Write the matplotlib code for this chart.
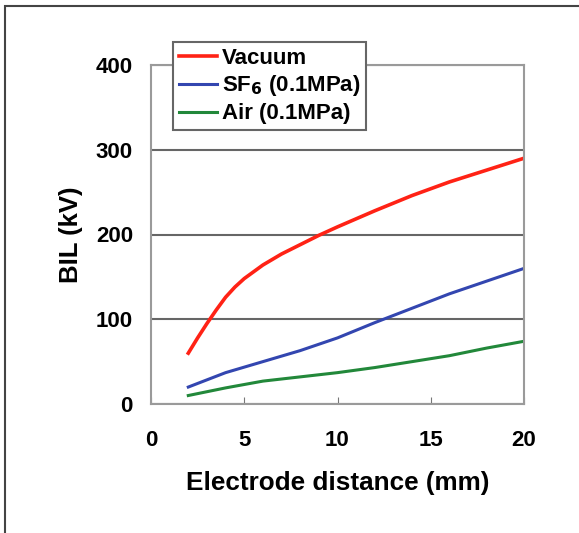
import matplotlib.pyplot as plt
from matplotlib.patches import Rectangle

plt.rcParams['font.family'] = ['Liberation Sans', 'DejaVu Sans']
plt.rcParams['font.weight'] = 'bold'

vac_x = [2, 2.5, 3, 3.5, 4, 4.5, 5, 6, 7, 8, 9, 10, 12, 14, 16, 18, 20]
vac_y = [60, 78, 95, 111, 126, 138, 148, 164, 177, 188, 199, 209, 228, 246, 262, 276, 290]
sf6_x = [2, 4, 6, 8, 10, 12, 14, 16, 18, 20]
sf6_y = [20, 37, 50, 63, 78, 96, 113, 130, 145, 160]
air_x = [2, 4, 6, 8, 10, 12, 14, 16, 18, 20]
air_y = [10, 19, 27, 32, 37, 43, 50, 57, 66, 74]

fig = plt.figure(figsize=(5.79, 5.33), dpi=100)
# outer frame (only top and left edges visible in the reference)
fig.patches.append(Rectangle((5 / 579, -0.1), 1.2, 1.1 - 6 / 533,
                             transform=fig.transFigure, fill=False,
                             edgecolor='#444444', linewidth=1.5))

ax = fig.add_axes([151 / 579, 1 - 404 / 533, 373 / 579, 339 / 533])

ax.plot(vac_x, vac_y, color='#ff2215', lw=2.6, label='Vacuum')
ax.plot(sf6_x, sf6_y, color='#3346b0', lw=2.2, label='SF$_6$ (0.1MPa)')
ax.plot(air_x, air_y, color='#22883a', lw=2.2, label='Air (0.1MPa)')

ax.set_xlim(0, 20)
ax.set_ylim(0, 400)
ax.set_xticks([0, 5, 10, 15, 20])
ax.set_yticks([0, 100, 200, 300, 400])
ax.yaxis.grid(True, color='#666666', lw=1.5)
ax.set_axisbelow(True)
for s in ax.spines.values():
    s.set_color('#9a9a9a')
    s.set_linewidth(1.5)
ax.tick_params(axis='x', direction='in', length=5, color='#777777',
               pad=19, labelsize=16)
ax.tick_params(axis='y', length=0, pad=13, labelsize=16)

ax.set_xlabel('Electrode distance (mm)', fontsize=18.8, fontweight='bold', labelpad=14)
ax.set_ylabel('BIL (kV)', fontsize=18.5, fontweight='bold', labelpad=9)

leg = ax.legend(loc='upper left', bbox_to_anchor=(0.059, 1.068), fontsize=16,
                frameon=True, fancybox=False, handlelength=1.75,
                handletextpad=0.2, borderpad=0.25, labelspacing=0.22,
                borderaxespad=0)
leg.get_frame().set_edgecolor('#666666')
leg.get_frame().set_linewidth(1.5)
leg.get_frame().set_alpha(1)

fig.savefig('out.png', dpi=100)
